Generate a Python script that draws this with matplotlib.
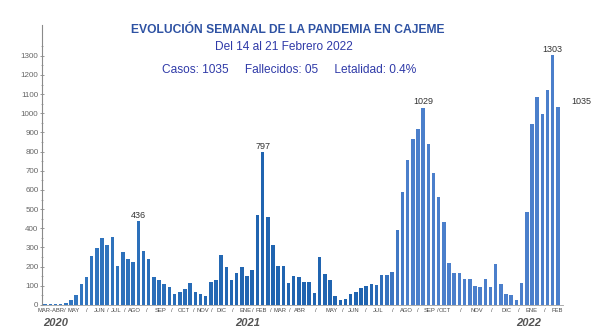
import numpy as np
import matplotlib
matplotlib.use("Agg")
import matplotlib.pyplot as plt
from matplotlib.colors import to_rgb

plt.rcParams['font.family'] = ['Liberation Sans', 'DejaVu Sans']

# ---------------- data ----------------
weekly_cases = [
    5, 3, 4, 6, 8,
    25, 50, 110, 145, 255, 295, 348, 313, 353, 204, 275, 242, 226, 436, 282,
    242, 145, 130, 108, 95, 57, 70, 82, 113, 70, 57, 47, 122, 130, 261, 197,
    130, 165, 197, 153, 183,
    470, 797, 457, 313, 203, 203, 116, 153, 148, 118, 118, 61, 249, 160, 130,
    49, 26, 30, 56, 70, 87, 100, 108, 104, 157, 157, 174, 391, 591, 756, 867,
    917, 1029, 840, 690, 565, 435, 221, 169, 165, 134, 134, 99, 96, 136, 92,
    214, 110, 57, 52, 27, 113, 487, 942, 1083, 998, 1120, 1303, 1035,
]
month_labels = ["MAR-ABR", "MAY", "JUN", "JUL", "AGO", "SEP", "OCT", "NOV", "DIC",
                "ENE", "FEB", "MAR", "ABR", "MAY", "JUN", "JUL", "AGO", "SEP",
                "OCT", "NOV", "DIC", "ENE", "FEB"]
month_week = [1.2, 5.6, 10.5, 13.7, 17.2, 22.2, 26.8, 30.5, 34.0, 38.6, 41.8,
              45.4, 49.2, 55.3, 59.5, 64.3, 69.8, 74.3, 77.2, 83.3, 89.1, 94.0, 98.8]
year_labels = ["2020", "2021", "2022"]
year_week = [2.0, 39.2, 93.3]
highlight_values = [436, 797, 1029, 1303]

title = "EVOLUCIÓN SEMANAL DE LA PANDEMIA EN CAJEME"
subtitle = "Del 14 al 21 Febrero 2022"
summary = "Casos: 1035     Fallecidos: 05     Letalidad: 0.4%"

# ---------------- figure ----------------
fig = plt.figure(figsize=(5.93, 3.27), dpi=100)
ax = fig.add_axes([0.0708, 0.0673, 0.8786, 0.856])

n = len(weekly_cases)
x = np.arange(n)

c_a = np.array(to_rgb("#3579c2"))
c_b = np.array(to_rgb("#2064b0"))
c_c = np.array(to_rgb("#4b7fcb"))
colors = []
for i in range(n):
    if i < 41:
        t = i / 41
        colors.append(tuple(c_a * (1 - t) + c_b * t))
    elif i < 62:
        colors.append(tuple(c_b))
    else:
        t = min((i - 62) / 8, 1)
        colors.append(tuple(c_b * (1 - t) + c_c * t))

ax.bar(x, weekly_cases, width=0.68, color=colors, linewidth=0)

ax.set_xlim(-0.6, 100.0)
ax.set_ylim(0, 1460)

for s in ["top", "right"]:
    ax.spines[s].set_visible(False)
ax.spines["left"].set_color("#8a8a8a")
ax.spines["left"].set_linewidth(0.8)
ax.spines["bottom"].set_color("#a0a0a0")
ax.spines["bottom"].set_linewidth(0.6)

ax.set_yticks(np.arange(0, 1301, 100))
ax.set_yticks(np.arange(50, 1351, 100), minor=True)
ax.tick_params(axis="y", which="major", direction="inout", length=3, width=0.6,
               color="#8a8a8a", labelsize=5.8, labelcolor="#666666", pad=1)
ax.tick_params(axis="y", which="minor", direction="inout", length=2, width=0.5,
               color="#8a8a8a")
ax.set_xticks([])

# month labels
for lab, w in zip(month_labels, month_week):
    ax.text(w, -0.012, lab, transform=ax.get_xaxis_transform(), ha="center",
            va="top", fontsize=4.2, color="#4a4a4a")
for a, b in zip(month_week[:-1], month_week[1:]):
    ax.text((a + b) / 2 + (0.5 if a < 2 else 0), -0.012, "/",
            transform=ax.get_xaxis_transform(),
            ha="center", va="top", fontsize=4.2, color="#4a4a4a")
for lab, w in zip(year_labels, year_week):
    ax.text(w, -0.045, lab, transform=ax.get_xaxis_transform(), ha="center",
            va="top", fontsize=8, color="#555555", fontstyle="italic",
            fontweight="bold")

# value annotations
for v in highlight_values:
    i = weekly_cases.index(v)
    ax.text(i, v + 8, str(v), ha="center", va="bottom", fontsize=6.5,
            color="#333333")
ax.text(n - 1 + 2.6, weekly_cases[-1] + 5, str(weekly_cases[-1]), ha="left",
        va="bottom", fontsize=6.5, color="#333333")

# titles
fig.text(0.485, 0.908, title, ha="center", va="center", fontsize=8.7,
         fontweight="bold", color="#2e52a3")
fig.text(0.478, 0.856, subtitle, ha="center", va="center", fontsize=8.6,
         color="#2f3aa8")
fig.text(0.488, 0.786, summary, ha="center", va="center", fontsize=8.6,
         color="#2f3aa8")

fig.savefig("out.png", dpi=100, facecolor="white")
